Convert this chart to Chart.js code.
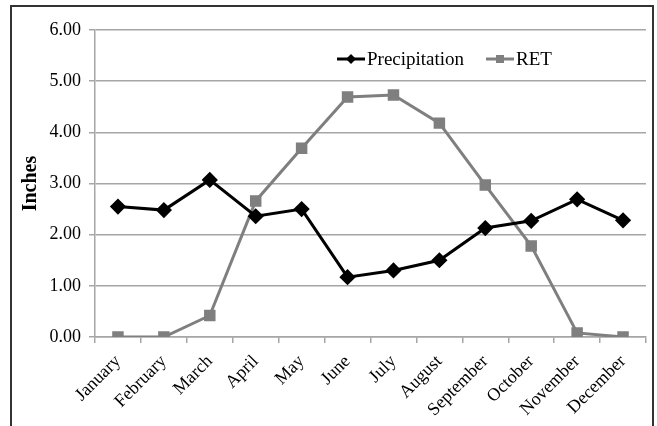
<!DOCTYPE html>
<html>
<head>
  <meta charset="UTF-8">
  <title>Precipitation and RET</title>
  <script src="https://cdn.jsdelivr.net/npm/chart.js"></script>
  <style>
    body { margin: 0; background: #fff; }
    #wrap { position: relative; width: 657px; height: 426px; overflow: hidden; }
    #frame {
      position: absolute; left: 10px; top: 5px; width: 640px; height: 440px;
      border: 2px solid #333; border-bottom: none;
    }
    canvas { position: absolute; left: 0; top: 0; }
  </style>
</head>
<body>
  <div id="wrap">
    <div id="frame"></div>
    <canvas id="chart" width="657" height="426"></canvas>
  </div>

  <script>
    const months = ['January', 'February', 'March', 'April', 'May', 'June',
      'July', 'August', 'September', 'October', 'November', 'December'];
    const precipitation = [2.55, 2.48, 3.07, 2.36, 2.50, 1.17, 1.30, 1.50, 2.13, 2.27, 2.69, 2.28];
    const ret = [0.00, 0.00, 0.42, 2.66, 3.69, 4.69, 4.73, 4.18, 2.97, 1.78, 0.08, 0.00];
    const yTicks = [0, 1, 2, 3, 4, 5, 6];

    const serif = '"Liberation Serif", "Times New Roman", serif';

    // legend sits inside the plot, drawn by hand
    const innerLegend = {
      id: 'innerLegend',
      afterDraw(chart) {
        const ctx = chart.ctx;
        const y = 59;
        const items = [
          { x: 337, ds: chart.data.datasets[0] },
          { x: 486, ds: chart.data.datasets[1] }
        ];
        ctx.save();
        items.forEach(it => {
          ctx.strokeStyle = it.ds.borderColor;
          ctx.lineWidth = 3;
          ctx.beginPath();
          ctx.moveTo(it.x, y);
          ctx.lineTo(it.x + 28, y);
          ctx.stroke();
          ctx.fillStyle = it.ds.pointBackgroundColor;
          const cx = it.x + 14;
          if (it.ds.pointStyle === 'rectRot') {
            ctx.beginPath();
            ctx.moveTo(cx, y - 5); ctx.lineTo(cx + 5, y);
            ctx.lineTo(cx, y + 5); ctx.lineTo(cx - 5, y);
            ctx.closePath(); ctx.fill();
          } else {
            ctx.fillRect(cx - 4, y - 4, 8, 8);
          }
          ctx.fillStyle = '#000';
          ctx.font = '19px ' + serif;
          ctx.textBaseline = 'middle';
          ctx.fillText(it.ds.label, it.x + 30, y + 1);
        });
        ctx.restore();
      }
    };

    new Chart(document.getElementById('chart'), {
      type: 'line',
      data: {
        labels: months,
        datasets: [{
          label: 'Precipitation',
          data: precipitation,
          borderColor: '#000',
          backgroundColor: '#000',
          pointBackgroundColor: '#000',
          pointBorderColor: '#000',
          borderWidth: 3,
          pointStyle: 'rectRot',
          pointRadius: 6,
          tension: 0
        }, {
          label: 'RET',
          data: ret,
          borderColor: '#7f7f7f',
          backgroundColor: '#7f7f7f',
          pointBackgroundColor: '#7f7f7f',
          pointBorderColor: '#7f7f7f',
          borderWidth: 3,
          pointStyle: 'rect',
          pointRadius: 6,
          tension: 0
        }]
      },
      options: {
        responsive: false,
        animation: false,
        layout: { padding: { left: 19, right: 11, top: 30, bottom: 0 } },
        plugins: { legend: { display: false }, tooltip: { enabled: false } },
        scales: {
          x: {
            offset: true,
            grid: {
              offset: true,
              drawOnChartArea: false,
              drawTicks: true,
              tickLength: 6,
              color: '#a6a6a6',
              lineWidth: 1.5
            },
            border: { color: '#a6a6a6', width: 1.5 },
            ticks: {
              minRotation: 45,
              maxRotation: 45,
              color: '#000',
              font: { family: serif, size: 18 },
              padding: 8
            },
            afterFit(scale) { scale.height = 89; }
          },
          y: {
            min: 0,
            max: 6,
            afterBuildTicks(scale) { scale.ticks = yTicks.map(v => ({ value: v })); },
            grid: { color: '#a6a6a6', lineWidth: 1.5, tickLength: 6 },
            border: { color: '#a6a6a6', width: 1.5 },
            ticks: {
              color: '#000',
              font: { family: serif, size: 18 },
              padding: 8,
              callback: v => v.toFixed(2)
            },
            title: {
              display: true,
              text: 'Inches',
              color: '#000',
              font: { family: serif, size: 20, weight: 'bold' },
              padding: { top: 0, bottom: 6 }
            },
            afterFit(scale) { scale.width = 76; }
          }
        }
      },
      plugins: [innerLegend]
    });
  </script>
</body>
</html>
